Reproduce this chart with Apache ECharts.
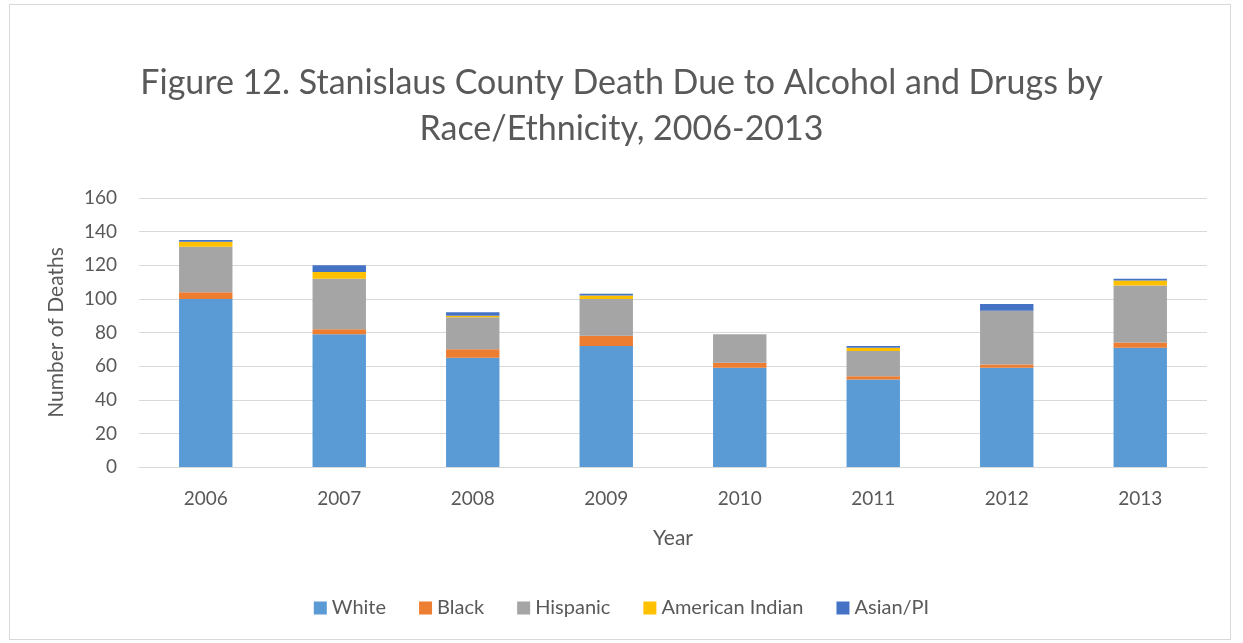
<!DOCTYPE html>
<html>
<head>
<meta charset="utf-8">
<script src="https://cdn.jsdelivr.net/npm/echarts@6/dist/echarts.min.js"></script>
<style>
  html, body { margin: 0; padding: 0; background: #fff; }
  #frame { position: absolute; left: 9px; top: 4px; width: 1222px; height: 636px; border: 1px solid #d9d9d9; box-sizing: border-box; }
  #chart { width: 1243px; height: 643px; }
</style>
</head>
<body>
<div id="frame"></div>
<div id="chart"></div>
<script>
// values
const years = ['2006', '2007', '2008', '2009', '2010', '2011', '2012', '2013'];
const white = [100, 79, 65, 72, 59, 52, 59, 71];
const black = [4, 3, 5, 6, 3, 2, 2, 3];
const hispanic = [27, 30, 19, 22, 17, 15, 32, 34];
const americanIndian = [3, 4, 1, 2, 0, 2, 0, 3];
const asianPI = [1, 4, 2, 1, 0, 1, 4, 1];
const yTicks = [0, 20, 40, 60, 80, 100, 120, 140, 160];

const font = 'Lato, "Open Sans", sans-serif';
const textColor = '#595959';

function bar(name, data, color) {
    return {
        name: name,
        type: 'bar',
        stack: 'deaths',
        barWidth: '40%',
        itemStyle: { color: color },
        data: data
    };
}

let chart = echarts.init(document.getElementById('chart'), null, { renderer: 'canvas' });
let option = {
    animation: false,
    textStyle: { fontFamily: font },
    title: {
        text: 'Figure 12. Stanislaus County Death Due to Alcohol and Drugs by\nRace/Ethnicity, 2006-2013',
        left: 'center',
        top: 55,
        textStyle: { fontFamily: font, fontSize: 34, fontWeight: 'normal', color: textColor, lineHeight: 46 }
    },
    legend: {
        bottom: 20,
        left: 'center',
        itemWidth: 13,
        itemHeight: 13,
        itemGap: 33,
        icon: 'rect',
        textStyle: { fontFamily: font, fontSize: 20, color: textColor },
        data: ['White', 'Black', 'Hispanic', 'American Indian', 'Asian/PI']
    },
    grid: { left: 139, right: 36, top: 198, bottom: 176 },
    xAxis: {
        type: 'category',
        data: years,
        name: 'Year',
        nameLocation: 'middle',
        nameGap: 61,
        nameTextStyle: { fontFamily: font, fontSize: 21, color: textColor },
        axisLine: { lineStyle: { color: '#d9d9d9' } },
        axisTick: { show: false },
        axisLabel: { fontFamily: font, fontSize: 19, color: textColor, margin: 22 }
    },
    yAxis: {
        type: 'value',
        min: yTicks[0],
        max: yTicks[yTicks.length - 1],
        interval: 20,
        name: 'Number of Deaths',
        nameLocation: 'middle',
        nameGap: 72,
        nameTextStyle: { fontFamily: font, fontSize: 21, color: textColor },
        axisLine: { show: false },
        axisTick: { show: false },
        splitLine: { lineStyle: { color: '#d9d9d9' } },
        axisLabel: { fontFamily: font, fontSize: 19, color: textColor, margin: 22 }
    },
    series: [
        bar('White', white, '#5B9BD5'),
        bar('Black', black, '#ED7D31'),
        bar('Hispanic', hispanic, '#A5A5A5'),
        bar('American Indian', americanIndian, '#FFC000'),
        bar('Asian/PI', asianPI, '#4472C4')
    ]
};
chart.setOption(option);
</script>
</body>
</html>
